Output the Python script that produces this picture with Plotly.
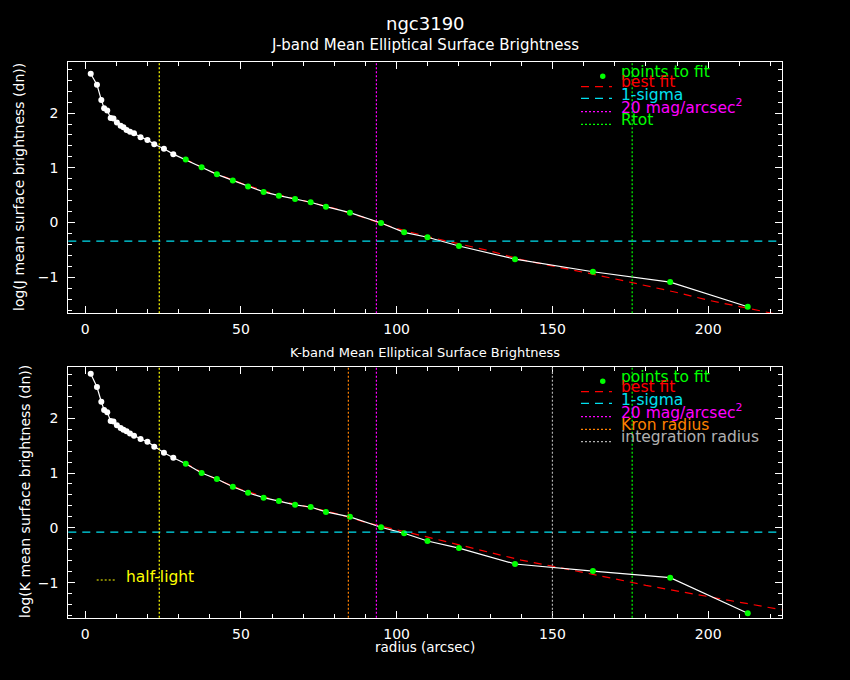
import plotly.graph_objects as go

W, H = 850, 680

# radii (arcsec) of the profile points
radius_inner = [1.8, 3.8, 5.2, 6.1, 7.1, 8.2, 9.1, 10.2, 11.4, 12.3, 13.3, 14.4,
                15.7, 17.8, 20.0, 22.2, 25.3, 28.3]
radius_fit = [32.3, 37.4, 42.3, 47.4, 52.3, 57.3, 62.2, 67.4, 72.4, 77.3, 85.0,
              95.0, 102.4, 109.9, 120.0, 138.0, 163.0, 187.8, 212.7]

# J band log mean surface brightness
j_inner = [2.72, 2.52, 2.24, 2.09, 2.05, 1.91, 1.90, 1.83, 1.77, 1.74, 1.69, 1.66,
           1.63, 1.56, 1.51, 1.43, 1.35, 1.25]
j_fit = [1.15, 1.01, 0.88, 0.77, 0.66, 0.56, 0.49, 0.43, 0.37, 0.29, 0.18,
         -0.01, -0.18, -0.27, -0.43, -0.67, -0.90, -1.09, -1.54]

# K band log mean surface brightness
k_inner = [2.81, 2.57, 2.30, 2.15, 2.11, 1.95, 1.94, 1.87, 1.82, 1.79, 1.76, 1.72,
           1.68, 1.62, 1.57, 1.48, 1.37, 1.28]
k_fit = [1.17, 1.00, 0.89, 0.75, 0.64, 0.55, 0.49, 0.42, 0.38, 0.29, 0.20,
         0.01, -0.10, -0.24, -0.37, -0.66, -0.79, -0.91, -1.56]

# best fit curves
bestfit_radius = [32, 40, 50, 60, 70, 80, 90, 100, 110, 120, 130, 140, 150, 160,
                  170, 180, 190, 200, 210, 220, 224]
j_bestfit = [1.16, 0.94, 0.72, 0.53, 0.40, 0.26, 0.08, -0.11, -0.26, -0.39, -0.52,
             -0.68, -0.79, -0.91, -1.03, -1.15, -1.28, -1.42, -1.54, -1.65, -1.70]
k_bestfit = [1.18, 0.94, 0.70, 0.52, 0.40, 0.27, 0.10, -0.03, -0.17, -0.31, -0.45,
             -0.59, -0.70, -0.81, -0.93, -1.05, -1.15, -1.25, -1.36, -1.45, -1.50]

# reference radii / levels
half_light = 23.8
mag20_radius = 93.5
rtot = 175.6
kron_radius = 84.5
integration_radius = 150.0
j_sigma = -0.34
k_sigma = -0.08

FONT = "DejaVu Sans"
GREEN, RED, CYAN, MAGENTA = "#00ff00", "#ff0000", "#00e0f0", "#ff00ff"
YELLOW, ORANGE, GREY = "#ffff00", "#ff8000", "#b0b0b0"
DOT = "2px,2px"
DASH = "8px,6px"

fig = go.Figure()


def add_panel(n, inner, fit, bestfit, sigma, vlines):
    xa = "x" if n == 1 else "x2"
    ya = "y" if n == 1 else "y2"
    fig.add_trace(go.Scatter(x=bestfit_radius, y=bestfit, mode="lines",
                             line=dict(color=RED, width=1.2, dash=DASH),
                             xaxis=xa, yaxis=ya, showlegend=False))
    fig.add_trace(go.Scatter(x=radius_inner + radius_fit, y=inner + fit, mode="lines",
                             line=dict(color="white", width=1.2),
                             xaxis=xa, yaxis=ya, showlegend=False))
    fig.add_trace(go.Scatter(x=radius_inner, y=inner, mode="markers",
                             marker=dict(color="white", size=6),
                             xaxis=xa, yaxis=ya, showlegend=False))
    fig.add_trace(go.Scatter(x=radius_fit, y=fit, mode="markers",
                             marker=dict(color=GREEN, size=6),
                             xaxis=xa, yaxis=ya, showlegend=False))
    fig.add_shape(type="line", xref=xa + " domain", yref=ya, x0=0, x1=1,
                  y0=sigma, y1=sigma, line=dict(color=CYAN, width=1.2, dash=DASH))
    for xv, col in vlines:
        fig.add_shape(type="line", xref=xa, yref=ya + " domain", x0=xv, x1=xv,
                      y0=0, y1=1, line=dict(color=col, width=1.2, dash=DOT))


add_panel(1, j_inner, j_fit, j_bestfit, j_sigma,
          [(half_light, YELLOW), (mag20_radius, MAGENTA), (rtot, GREEN)])
add_panel(2, k_inner, k_fit, k_bestfit, k_sigma,
          [(half_light, YELLOW), (kron_radius, ORANGE), (mag20_radius, MAGENTA),
           (integration_radius, GREY), (rtot, GREEN)])


def px(x):
    return x / W


def py(y):
    return 1 - y / H


def text(x, y, s, size=13, color="white", anchor="center", angle=0):
    fig.add_annotation(x=px(x), y=py(y), xref="paper", yref="paper", text=s,
                       showarrow=False, xanchor=anchor, yanchor="middle",
                       textangle=angle, font=dict(family=FONT, size=size, color=color))


def legend(top, items):
    # items: (label, colour, style)
    offs = [(10.0, 14.6), (20.0, 25.0), (33.3, 36.6), (45.0, 50.0), (58.3, 62.6), (70.6, 75.0)]
    for (label, col, style), (ty, sy) in zip(items, offs):
        text(619, top + ty, label, size=15.5, color=col, anchor="left")
        if style == "marker":
            fig.add_shape(type="circle", xref="paper", yref="paper",
                          x0=px(600), x1=px(605.5), y0=py(top + sy - 2.7), y1=py(top + sy + 2.7),
                          fillcolor=col, line=dict(color=col, width=0))
        else:
            fig.add_shape(type="line", xref="paper", yref="paper",
                          x0=px(581), x1=px(612), y0=py(top + sy), y1=py(top + sy),
                          line=dict(color=col, width=1.2, dash=style))


legend(61.7, [("points to fit", GREEN, "marker"), ("best fit", RED, DASH),
              ("1-sigma", CYAN, DASH), ("20 mag/arcsec<sup>2</sup>", MAGENTA, DOT),
              ("Rtot", GREEN, DOT)])
legend(366.7, [("points to fit", GREEN, "marker"), ("best fit", RED, DASH),
               ("1-sigma", CYAN, DASH), ("20 mag/arcsec<sup>2</sup>", MAGENTA, DOT),
               ("Kron radius", ORANGE, DOT), ("integration radius", GREY, DOT)])

# half-light key
fig.add_shape(type="line", xref="paper", yref="paper", x0=px(96.7), x1=px(116.7),
              y0=py(580), y1=py(580), line=dict(color=YELLOW, width=1.2, dash=DOT))
text(124, 577, "half-light", size=15.5, color=YELLOW, anchor="left")

text(425, 24, "ngc3190", size=18)
text(425, 45, "J-band Mean Elliptical Surface Brightness", size=15)
text(425, 352, "K-band Mean Elliptical Surface Brightness", size=13)
text(425, 647, "radius (arcsec)", size=13.5)
text(19, 187, "log(J mean surface brightness (dn))", size=14, angle=-90)
text(25, 492, "log(K mean surface brightness (dn))", size=14, angle=-90)

xdom = [68.3 / W, 781.7 / W]
axis_common = dict(showline=True, linecolor="white", linewidth=1.2, mirror="allticks",
                   ticks="inside", ticklen=7, tickcolor="white", tickwidth=1.2,
                   showgrid=False, zeroline=False,
                   tickfont=dict(family=FONT, size=14, color="white"),
                   minor=dict(ticks="inside", ticklen=4, tickcolor="white", tickwidth=1.2,
                              showgrid=False))

fig.update_layout(
    width=W, height=H,
    margin=dict(l=0, r=0, t=0, b=0),
    paper_bgcolor="black", plot_bgcolor="black",
    showlegend=False,
    xaxis=dict(axis_common, domain=xdom, range=[-5.4, 223.6], dtick=50, tick0=0,
               minor=dict(axis_common["minor"], dtick=10), anchor="y",
               ticklabelstandoff=3),
    yaxis=dict(axis_common, domain=[py(313.3), py(61.7)], range=[-1.66, 2.94],
               dtick=1, tick0=0, minor=dict(axis_common["minor"], dtick=0.2),
               anchor="x", ticklabelstandoff=6),
    xaxis2=dict(axis_common, domain=xdom, range=[-5.4, 223.6], dtick=50, tick0=0,
                minor=dict(axis_common["minor"], dtick=10), anchor="y2",
                ticklabelstandoff=3),
    yaxis2=dict(axis_common, domain=[py(617.7), py(366.7)], range=[-1.64, 2.94],
                dtick=1, tick0=0, minor=dict(axis_common["minor"], dtick=0.2),
                anchor="x2", ticklabelstandoff=6),
)

fig.write_html("out.html", config={"displayModeBar": False},
               post_script="document.body.style.margin='0';"
                           "document.body.style.background='black';")
